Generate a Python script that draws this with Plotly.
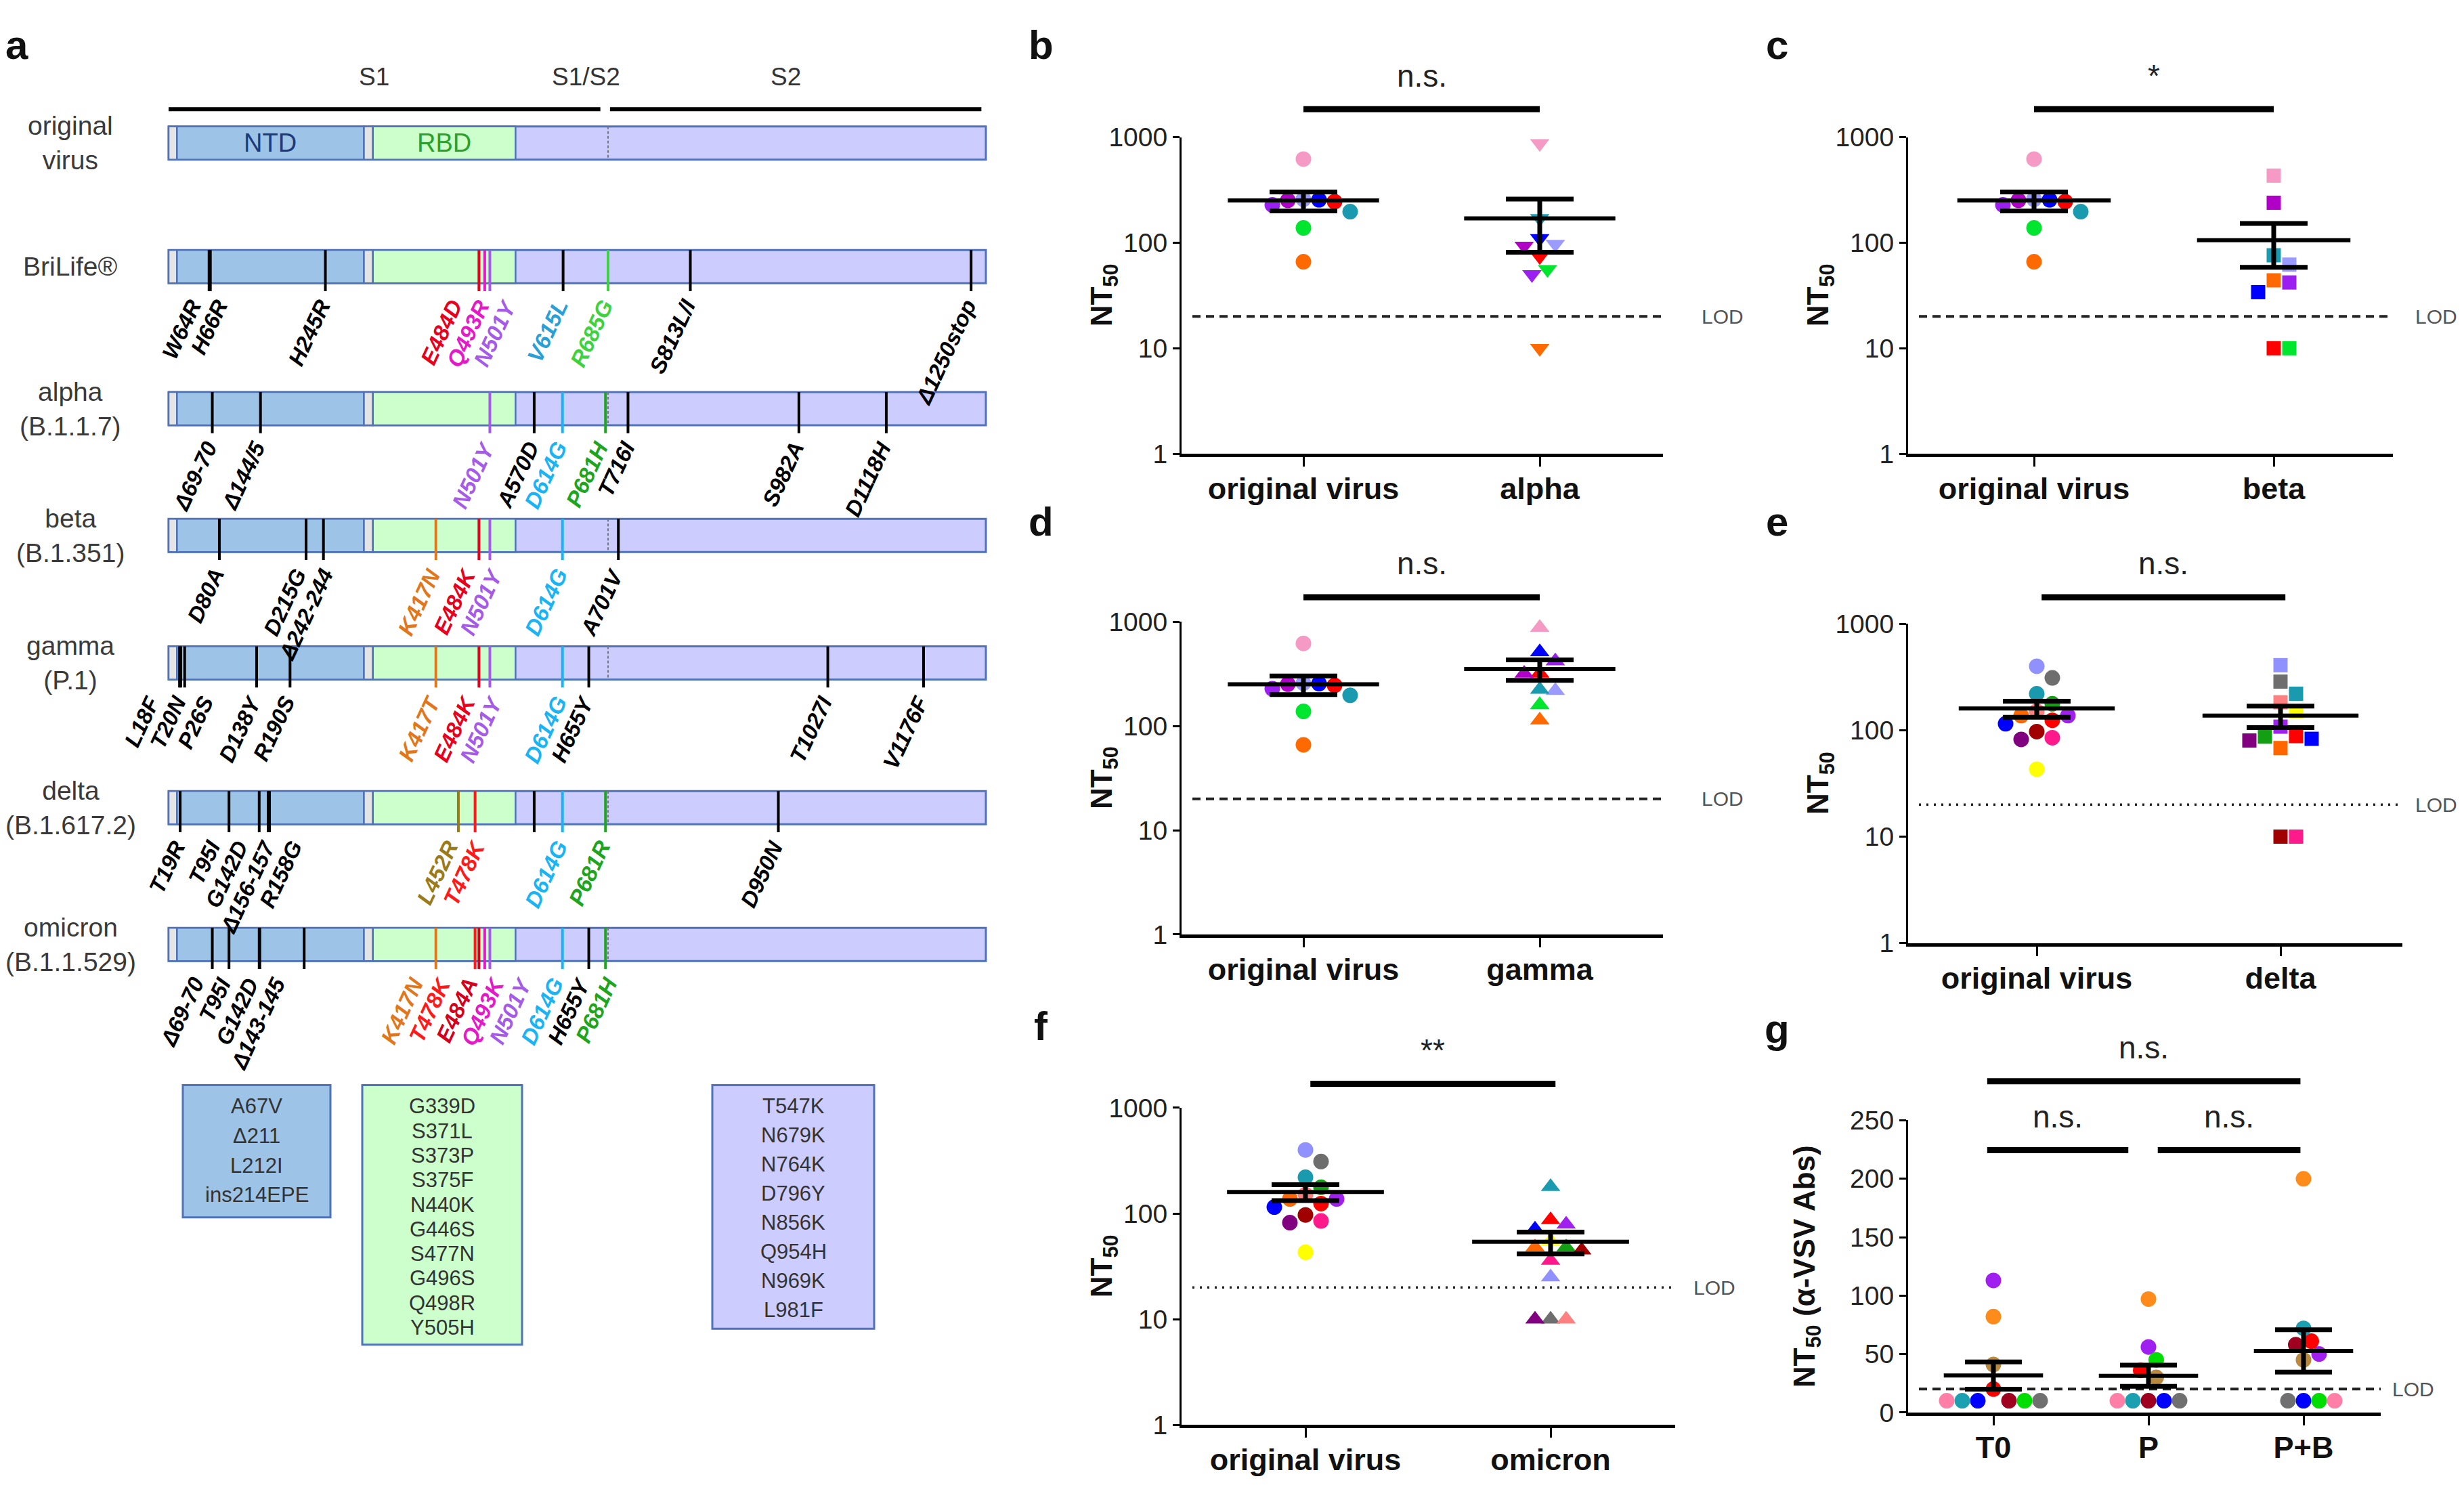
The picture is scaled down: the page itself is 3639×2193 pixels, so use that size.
import numpy as np
import plotly.graph_objects as go

W, H = 3639, 2193
FONT = "Liberation Sans, Arial, sans-serif"

# ======================= panel a : data =======================
SEG_START = [1, 14, 305, 319, 541]
SEG_END = [14, 305, 319, 541, 1273]
SEG_KIND = ["sig", "ntd", "sig", "rbd", "s2"]
SEG_TEXT = ["", "NTD", "", "RBD", ""]
CLEAVAGE_SITE = 685
S1_RANGE = [1, 673]
S2_RANGE = [688, 1266]
HEADER_LABELS = ["S1", "S1/S2", "S2"]
HEADER_LABEL_RES = [321, 651, 962]

ROW_NAMES = ["original<br>virus", "BriLife®", "alpha<br>(B.1.1.7)", "beta<br>(B.1.351)",
             "gamma<br>(P.1)", "delta<br>(B.1.617.2)", "omicron<br>(B.1.1.529)"]

BRILIFE_POS = [64, 66, 245, 484, 493, 501, 615, 685, 813, 1250]
BRILIFE_MUT = ["W64R", "H66R", "H245R", "E484D", "Q493R", "N501Y", "V615L", "R685G", "S813L/I", "Δ1250stop"]
ALPHA_POS = [69, 144, 501, 570, 614, 681, 716, 982, 1118]
ALPHA_MUT = ["Δ69-70", "Δ144/5", "N501Y", "A570D", "D614G", "P681H", "T716I", "S982A", "D1118H"]
BETA_POS = [80, 215, 242, 417, 484, 501, 614, 701]
BETA_MUT = ["D80A", "D215G", "Δ242-244", "K417N", "E484K", "N501Y", "D614G", "A701V"]
GAMMA_POS = [18, 20, 26, 138, 190, 417, 484, 501, 614, 655, 1027, 1176]
GAMMA_MUT = ["L18F", "T20N", "P26S", "D138Y", "R190S", "K417T", "E484K", "N501Y", "D614G", "H655Y", "T1027I", "V1176F"]
DELTA_POS = [19, 95, 142, 156, 158, 452, 478, 570, 614, 681, 950]
DELTA_MUT = ["T19R", "T95I", "G142D", "Δ156-157", "R158G", "L452R", "T478K", "", "D614G", "P681R", "D950N"]
OMICRON_POS = [69, 95, 142, 143, 212, 417, 478, 484, 493, 501, 614, 655, 681]
OMICRON_MUT = ["Δ69-70", "T95I", "G142D", "Δ143-145", "", "K417N", "T478K", "E484A", "Q493K", "N501Y",
               "D614G", "H655Y", "P681H"]

NTD_EXTRA = ["A67V", "Δ211", "L212I", "ins214EPE"]
RBD_EXTRA = ["G339D", "S371L", "S373P", "S375F", "N440K", "G446S", "S477N", "G496S", "Q498R", "Y505H"]
S2_EXTRA = ["T547K", "N679K", "N764K", "D796Y", "N856K", "Q954H", "N969K", "L981F"]

# ======================= panels b-g : data =======================
# 9 donors (panels b, c, d): pink, lavender, red, teal, violet, purple, blue, green, orange
ORIG9 = [620, 258, 245, 197, 228, 252, 255, 138, 66]
ALPHA = [872, 97, 74, 170, 50, 93, 110, 56, 10]
BETA = [432, 62, 10, 76, 42, 239, 34, 10, 44]
GAMMA = [880, 218, 320, 224, 420, 320, 514, 160, 114]
# 13 donors (panels e, f)
ORIG13 = [399, 310, 220, 177, 151, 137, 137, 124, 115, 97, 85, 82, 43]
DELTA = [408, 286, 220, 87, 183, 68, 108, 88, 83, 10, 10, 80, 151]
OMICRON = [25, 10, 179, 48, 10, 48, 79, 87, 71, 45, 36, 10, 55]
# panel g, 10 donors
G_T0 = [113, 82, 41, 20, 10, 10, 10, 10, 10, 10]
G_P = [56, 97, 30, 36, 10, 10, 45, 10, 10, 10]
G_PB = [50, 200, 45, 61, 58, 10, 10, 72, 10, 10]

LOD = 20
LOG_TICKS = [1, 10, 100, 1000]
LIN_TICKS = [0, 50, 100, 150, 200, 250]

# ======================= styles =======================
COL9 = ["#f59ac4", "#9a9aff", "#ff0000", "#1a9aae", "#9b1ff0", "#b000c8", "#0000ff", "#00e62e", "#ff6a00"]
COL13 = ["#9090ff", "#6e6e6e", "#1a9aae", "#12a012", "#ff8080", "#ff6600", "#a020f0", "#ff0000",
         "#0000ff", "#a00000", "#ff1a8c", "#800080", "#ffff00"]
COLG = ["#a020f0", "#ff8c1a", "#b8893e", "#ff0000", "#a00020", "#0000ff", "#00dd00", "#1aa0b0",
        "#707070", "#ff7fa8"]

MUT_COLOR = {"E484D": "#e8001c", "E484K": "#e8001c", "T478K": "#ff1a1a", "E484A": "#d4001c",
             "Q493R": "#e619c8", "Q493K": "#e619c8", "N501Y": "#a65be8", "K417N": "#e2761b",
             "K417T": "#e2761b", "D614G": "#1ab4f5", "V615L": "#2a9fd6", "R685G": "#3fd23f",
             "P681H": "#1ea51e", "P681R": "#1ea51e", "L452R": "#9a7b1a"}
LINE_OVERRIDE = {"V615L": "#000000"}
SEG_FILL = {"sig": "#e4e4e4", "ntd": "#9dc3e6", "rbd": "#ccffcc", "s2": "#ccccff"}
BORDER = "#4f72b8"

fig = go.Figure()
shapes, anns = [], []


def pxx(x):
    return x / W


def pxy(y):
    return 1 - y / H


# ======================= panel a (layout in pixels) =======================
PX_PER_RES = 1207 / 1272
RES0_PX = 241
A_RIGHT_PX = 1530
ROW_PX = [186, 372, 586, 777, 969, 1187, 1393]
HEADER_LINE_PX, HEADER_TEXT_PX = 135, 86
HALF = 25
EXT = 12
xr = [1 - RES0_PX / PX_PER_RES, 1 + (A_RIGHT_PX - RES0_PX) / PX_PER_RES]

fig.add_trace(go.Scatter(x=[1], y=[200], mode="markers", marker=dict(opacity=0), xaxis="x", yaxis="y",
                         hoverinfo="skip"))

for rng in (S1_RANGE, S2_RANGE):
    shapes.append(dict(type="line", xref="x", yref="y", x0=rng[0], x1=rng[1], y0=HEADER_LINE_PX,
                       y1=HEADER_LINE_PX, line=dict(color="black", width=6)))
for lab, r in zip(HEADER_LABELS, HEADER_LABEL_RES):
    anns.append(dict(text=lab, x=r, y=HEADER_TEXT_PX, xref="x", yref="y", showarrow=False,
                     xanchor="center", yanchor="middle", font=dict(family=FONT, size=37, color="#333")))

MUTS = [([], []), (BRILIFE_POS, BRILIFE_MUT), (ALPHA_POS, ALPHA_MUT), (BETA_POS, BETA_MUT),
        (GAMMA_POS, GAMMA_MUT), (DELTA_POS, DELTA_MUT), (OMICRON_POS, OMICRON_MUT)]


def dodge(pos, gap):
    n = len(pos)
    if n == 0:
        return []
    order = sorted(range(n), key=lambda i: pos[i])
    clusters = [[i] for i in order]

    def place(cl):
        c = np.mean([pos[i] for i in cl])
        k = len(cl)
        return [c + (j - (k - 1) / 2) * gap for j in range(k)]

    changed = True
    while changed:
        changed = False
        for ci in range(len(clusters) - 1):
            a, b = place(clusters[ci]), place(clusters[ci + 1])
            if b[0] - a[-1] < gap - 1e-9:
                clusters[ci] = clusters[ci] + clusters[ci + 1]
                del clusters[ci + 1]
                changed = True
                break
    out = [0.0] * n
    for cl in clusters:
        for i, x in zip(cl, place(cl)):
            out[i] = x
    return out


LABEL_GAP_RES = 40 / PX_PER_RES

for ri, name in enumerate(ROW_NAMES):
    yc = ROW_PX[ri]
    y0, y1 = yc - HALF, yc + HALF
    shapes.append(dict(type="rect", xref="x", yref="y", x0=1, x1=1273, y0=y0, y1=y1,
                       fillcolor=SEG_FILL["s2"], line=dict(color=BORDER, width=3), layer="below"))
    for s, e, k, t in zip(SEG_START, SEG_END, SEG_KIND, SEG_TEXT):
        if k == "s2":
            continue
        shapes.append(dict(type="rect", xref="x", yref="y", x0=s, x1=e, y0=y0, y1=y1,
                           fillcolor=SEG_FILL[k], line=dict(color=BORDER, width=2.5), layer="below"))
        if t and ri == 0:
            anns.append(dict(text=t, x=(s + e) / 2, y=yc, xref="x", yref="y", showarrow=False,
                             xanchor="center", yanchor="middle",
                             font=dict(family=FONT, size=38, color="#1f3a78" if k == "ntd" else "#2ca02c")))
    shapes.append(dict(type="line", xref="x", yref="y", x0=CLEAVAGE_SITE, x1=CLEAVAGE_SITE, y0=y0, y1=y1,
                       line=dict(color="#777", width=2, dash="4px,3px")))
    anns.append(dict(text=name, x=pxx(96), y=yc, xref="paper", yref="y", showarrow=False,
                     xanchor="center", yanchor="middle", font=dict(family=FONT, size=39, color="#3a3a3a")))
    pos, labs = MUTS[ri]
    lab_idx = [i for i, l in enumerate(labs) if l]
    lab_x = dodge([pos[i] for i in lab_idx], LABEL_GAP_RES)
    for p, l in zip(pos, labs):
        c = MUT_COLOR.get(l, "#000000")
        lc = LINE_OVERRIDE.get(l, c)
        shapes.append(dict(type="line", xref="x", yref="y", x0=p, x1=p, y0=y0, y1=y1 + EXT,
                           line=dict(color=lc, width=4)))
    for i, lx in zip(lab_idx, lab_x):
        l = labs[i]
        anns.append(dict(text="<b><i>" + l + "</i></b>", x=lx, y=y1 + EXT, xref="x", yref="y",
                         showarrow=False, textangle=-65, xanchor="right", yanchor="top",
                         xshift=17, yshift=-4,
                         font=dict(family=FONT, size=33, color=MUT_COLOR.get(l, "#000000"))))

# extra-mutation boxes for omicron (pixel layout)
BOX_TOP = 1605
BOX_SPECS = [(NTD_EXTRA, "ntd", 262, 480, 1804, 44.5),
             (RBD_EXTRA, "rbd", 527, 763, 1996, 37.0),
             (S2_EXTRA, "s2", 1044, 1283, 1972, 43.8)]
for items, kind, bx0, bx1, by1, step in BOX_SPECS:
    shapes.append(dict(type="rect", xref="paper", yref="paper", x0=pxx(bx0), x1=pxx(bx1), y0=pxy(by1),
                       y1=pxy(BOX_TOP), fillcolor=SEG_FILL[kind], line=dict(color=BORDER, width=3)))
    for k, it in enumerate(items):
        anns.append(dict(text=it, x=pxx((bx0 + bx1) / 2), y=pxy(BOX_TOP + 32 + k * step), xref="paper",
                         yref="paper", xanchor="center", yanchor="middle", showarrow=False,
                         font=dict(family=FONT, size=31, color="#333")))

anns.append(dict(text="<b>a</b>", x=pxx(17), y=pxy(2), xref="paper", yref="paper", showarrow=False,
                 xanchor="center", yanchor="top", font=dict(family=FONT, size=60, color="#111")))

layout = dict(
    width=W, height=H, margin=dict(l=0, r=0, t=0, b=0), paper_bgcolor="white", plot_bgcolor="rgba(0,0,0,0)",
    showlegend=False,
    xaxis=dict(domain=[0, pxx(A_RIGHT_PX)], range=xr, visible=False, fixedrange=True),
    yaxis=dict(domain=[0, 1], range=[H, 0], visible=False, fixedrange=True),
)

# ======================= panels b-g =======================
PANELS = [
    dict(n=2, letter="b", lp=(1529, 2), x=(1737, 2448), y=(177, 654), cats=(1917, 2266), log=True,
         labels=["original virus", "alpha"], groups=[(ORIG9, COL9, "circle"), (ALPHA, COL9, "triangle-down")],
         lod="12px,8px", lodx=2536, tdx=115, sig=[(0, 1, 135, "n.s.", 0, 0)]),
    dict(n=3, letter="c", lp=(2616, 2), x=(2810, 3526), y=(177, 654), cats=(2996, 3350), log=True,
         labels=["original virus", "beta"], groups=[(ORIG9, COL9, "circle"), (BETA, COL9, "square")],
         lod="12px,8px", lodx=3590, tdx=130, sig=[(0, 1, 135, "*", 0, 0)]),
    dict(n=4, letter="d", lp=(1529, 720), x=(1737, 2448), y=(907, 1378), cats=(1917, 2266), log=True,
         labels=["original virus", "gamma"], groups=[(ORIG9, COL9, "circle"), (GAMMA, COL9, "triangle-up")],
         lod="12px,8px", lodx=2536, tdx=115, sig=[(0, 1, 870, "n.s.", 0, 0)]),
    dict(n=5, letter="e", lp=(2616, 720), x=(2810, 3540), y=(910, 1391), cats=(3000, 3360), log=True,
         labels=["original virus", "delta"], groups=[(ORIG13, COL13, "circle"), (DELTA, COL13, "square")],
         lod="3px,8px", lodx=3590, tdx=130, sig=[(0, 1, 870, "n.s.", 0.02, 0.02)]),
    dict(n=6, letter="f", lp=(1529, 1480), x=(1737, 2466), y=(1639, 2117), cats=(1920, 2282), log=True,
         labels=["original virus", "omicron"], groups=[(ORIG13, COL13, "circle"), (OMICRON, COL13, "triangle-up")],
         lod="3px,8px", lodx=2524, tdx=115, sig=[(0, 1, 1603, "**", 0.02, 0.02)]),
    dict(n=7, letter="g", lp=(2616, 1484), x=(2810, 3508), y=(1658, 2098), cats=(2936, 3165, 3394), log=False,
         labels=["T0", "P", "P+B"],
         groups=[(G_T0, COLG, "circle"), (G_P, COLG, "circle"), (G_PB, COLG, "circle")],
         lod="12px,8px", lodx=3556, tdx=150,
         sig=[(0, 2, 1599, "n.s.", -0.04, -0.02), (0, 1, 1703, "n.s.", -0.04, -0.13),
              (1, 2, 1703, "n.s.", 0.06, -0.02)]),
]

STEP = 23


def swarm(vals, to_px, step, cat_px):
    order = sorted(range(len(vals)), key=lambda i: -vals[i])
    placed = []
    offs = [0.0] * len(vals)
    cand = [0.0]
    for j in range(1, 40):
        cand += [j * 0.5, -j * 0.5]
    for i in order:
        y = to_px(vals[i])
        x = 0.0
        for c in cand:
            x = c * step
            if all((x - a) ** 2 + (y - b) ** 2 >= (0.95 * step) ** 2 for a, b in placed):
                break
        placed.append((x, y))
        offs[i] = x / cat_px
    return offs


for P in PANELS:
    n = P["n"]
    xa, ya = f"x{n}", f"y{n}"
    x0, x1 = P["x"]
    ytop, ybot = P["y"]
    cats = P["cats"]
    sp = (cats[-1] - cats[0]) / (len(cats) - 1)
    rng = [(x0 - cats[0]) / sp, len(cats) - 1 + (x1 - cats[-1]) / sp]
    if P["log"]:
        ppu = (ybot - ytop) / 3.0
        to_px = lambda v, p=ppu: np.log10(v) * p
        yax = dict(type="log", range=[0, 3], tickvals=LOG_TICKS, ticktext=[str(t) for t in LOG_TICKS])
        ylod = np.log10(LOD)
        hw, cap = 0.32, 50
    else:
        ppu = (ybot - ytop) / 250.0
        to_px = lambda v, p=ppu: v * p
        yax = dict(type="linear", range=[0, 250], tickvals=LIN_TICKS, ticktext=[str(t) for t in LIN_TICKS])
        ylod = LOD
        hw, cap = 0.32, 42
    yax.update(domain=[pxy(ybot), pxy(ytop)], anchor=xa, showline=True, linewidth=3, linecolor="black",
               ticks="outside", ticklen=10, tickwidth=3, tickcolor="black", showgrid=False, zeroline=False,
               tickfont=dict(family=FONT, size=39, color="#222"), fixedrange=True)
    xax = dict(domain=[pxx(x0), pxx(x1)], range=rng, anchor=ya, showline=True, linewidth=5, linecolor="black",
               ticks="outside", ticklen=14, tickwidth=3, tickcolor="black", showgrid=False, zeroline=False,
               tickvals=list(range(len(cats))), ticktext=["<b>" + l + "</b>" for l in P["labels"]],
               tickfont=dict(family=FONT, size=45, color="#111"), ticklabelstandoff=-6, fixedrange=True)
    layout[f"xaxis{n}"] = xax
    layout[f"yaxis{n}"] = yax

    fig.add_trace(go.Scatter(x=[rng[0] + 16 / sp, rng[1]], y=[LOD, LOD], mode="lines", xaxis=xa, yaxis=ya,
                             line=dict(color="#222", width=4 if P["lod"].startswith("12") else 3.5,
                                       dash=P["lod"]), hoverinfo="skip"))
    for gi, (vals, cols, sym) in enumerate(P["groups"]):
        offs = swarm(vals, to_px, STEP, sp)
        sz = 21 if sym == "square" else (25 if "triangle" in sym else 23)
        fig.add_trace(go.Scatter(x=[gi + o for o in offs], y=vals, mode="markers", xaxis=xa, yaxis=ya,
                                 marker=dict(symbol=sym, size=sz, color=cols, line=dict(width=0)),
                                 cliponaxis=False))
        m = float(np.mean(vals))
        s = float(np.std(vals, ddof=1) / np.sqrt(len(vals)))
        fig.add_trace(go.Scatter(x=[gi - hw, gi + hw], y=[m, m], mode="lines", xaxis=xa, yaxis=ya,
                                 line=dict(color="black", width=6), hoverinfo="skip"))
        fig.add_trace(go.Scatter(x=[gi], y=[m], mode="markers", xaxis=xa, yaxis=ya, marker=dict(opacity=0),
                                 error_y=dict(type="data", array=[s], color="black", thickness=7, width=cap)))

    anns.append(dict(text="LOD", x=pxx(P["lodx"]), y=ylod, xref="paper", yref=ya, xanchor="center",
                     yanchor="middle", showarrow=False, font=dict(family=FONT, size=30, color="#555")))
    ttl = "<b>NT<sub>50</sub></b>" if P["log"] else "<b>NT<sub>50</sub> (α-VSV Abs)</b>"
    anns.append(dict(text=ttl, x=pxx(x0 - P["tdx"]), y=pxy((ytop + ybot) / 2), xref="paper", yref="paper",
                     xanchor="center", yanchor="middle", textangle=-90, showarrow=False,
                     font=dict(family=FONT, size=44, color="#111")))
    anns.append(dict(text="<b>" + P["letter"] + "</b>", x=pxx(P["lp"][0]), y=pxy(P["lp"][1]), xref="paper",
                     yref="paper", xanchor="center", yanchor="top", showarrow=False,
                     font=dict(family=FONT, size=60, color="#111")))
    for ca, cb, ybar, txt, oa, ob in P["sig"]:
        xa_px = cats[0] + (ca + oa) * sp
        xb_px = cats[0] + (cb + ob) * sp
        shapes.append(dict(type="line", xref="paper", yref="paper", x0=pxx(xa_px), x1=pxx(xb_px),
                           y0=pxy(ybar), y1=pxy(ybar), line=dict(color="black", width=9)))
        anns.append(dict(text=txt, x=pxx((xa_px + xb_px) / 2), y=pxy(ybar - 22), xref="paper", yref="paper",
                         xanchor="center", yanchor="bottom", showarrow=False,
                         font=dict(family=FONT, size=46, color="#222")))

layout["shapes"] = shapes
layout["annotations"] = anns
fig.update_layout(**layout)
fig.write_html("out.html")
